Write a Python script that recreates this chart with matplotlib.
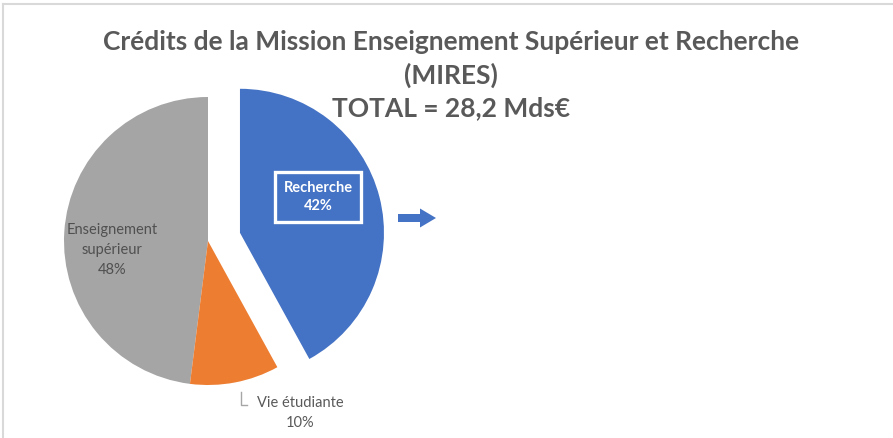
import matplotlib.pyplot as plt
from matplotlib.patches import FancyArrow

labels = ["Enseignement\nsupérieur", "Vie étudiante", "Recherche"]
shares = [48, 10, 42]
colors = ["#A5A5A5", "#ED7D31", "#4472C4"]
explode = [0, 0, 33]  # pie explode is in data units here (pixels)

H = 438
plt.rcParams["font.family"] = ["Lato", "DejaVu Sans"]

fig = plt.figure(figsize=(8.93, 4.38), dpi=100)
ax = fig.add_axes([0, 0, 1, 1])
ax.set_xlim(0, 893)
ax.set_ylim(0, H)
ax.set_aspect("equal")
ax.axis("off")

# chart frame (top and left visible)
ax.plot([3, 893], [H - 4, H - 4], color="#D9D9D9", lw=1.5)
ax.plot([3, 3], [0, H - 4], color="#D9D9D9", lw=1.5)

ax.pie(shares, colors=colors, explode=explode, startangle=90,
       counterclock=True, center=(208, H - 241), radius=144,
       wedgeprops=dict(linewidth=0))
ax.set_xlim(0, 893)
ax.set_ylim(0, H)

title_kw = dict(ha="center", va="center", color="#595959", fontweight="bold",
                fontsize=19)
ax.text(451, H - 42, "Crédits de la Mission Enseignement Supérieur et Recherche",
        **title_kw)
ax.text(451, H - 75, "(MIRES)", **title_kw)
ax.text(451, H - 108, "TOTAL = 28,2 Mds€", **title_kw)

lab_kw = dict(ha="center", va="center", multialignment="center", fontsize=10.5)
ax.text(112, H - 250, f"{labels[0]}\n{shares[0]}%", color="#505050",
        linespacing=1.55, **lab_kw)
ax.text(318, H - 197, f"{labels[2]}\n{shares[2]}%", color="white",
        fontweight="bold", linespacing=1.45,
        bbox=dict(boxstyle="square,pad=0.6", facecolor="none",
                  edgecolor="white", linewidth=2.4), **lab_kw)
ax.text(300, H - 413, f"{labels[1]}\n{shares[1]}%", color="#595959",
        linespacing=1.55, **lab_kw)
ax.plot([241, 241, 247], [H - 392, H - 405, H - 405], color="#A6A6A6", lw=1)

ax.add_patch(FancyArrow(398, H - 218, 22, 0, width=8, head_width=19,
                        head_length=16, color="#4472C4", lw=0))

fig.savefig("out.png", dpi=100)
